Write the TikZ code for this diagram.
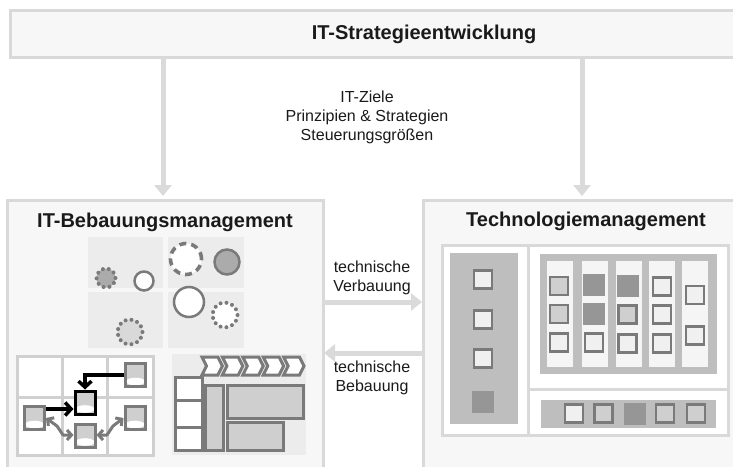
\documentclass[tikz,border=0pt]{standalone}
\usepackage{fontspec}
\setmainfont{Liberation Sans}
\usetikzlibrary{arrows.meta}
\definecolor{boxfill}{HTML}{F7F7F7}
\definecolor{boxline}{HTML}{D9D9D9}
\definecolor{arrowc}{HTML}{DADADA}
\definecolor{quadc}{HTML}{ECECEC}
\definecolor{dline}{HTML}{7A7A7A}
\definecolor{midf}{HTML}{CFCFCF}
\definecolor{panelc}{HTML}{BEBEBE}
\definecolor{darkf}{HTML}{969696}
\definecolor{lightsq}{HTML}{F0F0F0}
\definecolor{colc}{HTML}{F5F5F5}
\definecolor{gridc}{HTML}{D0D0D0}
\definecolor{txt}{HTML}{1A1A1A}
\begin{document}
\begin{tikzpicture}[x=1pt,y=-1pt,
  bigbox/.style={draw=boxline, line width=3pt, fill=boxfill, inner sep=0pt, outer sep=0pt, anchor=north west},
  bigarrow/.style={draw=arrowc, line width=5pt, -{Triangle[length=11pt,width=17pt]}},
  titlet/.style={font=\fontsize{20}{24}\selectfont\bfseries, text=txt, inner sep=0pt},
  labt/.style={font=\fontsize{16}{19}\selectfont, align=center, text=txt, inner sep=0pt},
  sq/.style={draw=dline, line width=2.5pt, fill=lightsq, minimum size=18pt, inner sep=0pt},
  sqmid/.style={sq, fill=midf},
  sqdark/.style={fill=darkf, minimum size=22pt, inner sep=0pt},
  db/.style={draw=dline, line width=3pt, fill=midf, minimum width=20pt, minimum height=23pt, inner sep=0pt,
    path picture={\fill[white] ([yshift=-6.5pt]path picture bounding box.center) ellipse (9.5pt and 3.8pt);}},
  blackarr/.style={draw=black, line width=3.5pt, -{Straight Barb[length=6pt,width=13pt]}},
  grayarr/.style={draw=dline, line width=3pt, line join=round, {Straight Barb[length=4.5pt,width=10pt]}-{Straight Barb[length=4.5pt,width=10pt]}},
  pbox/.style={draw=dline, line width=3pt},
  circ/.style={circle, inner sep=0pt, line width=2.5pt},
  dotc/.style={dash pattern=on 0pt off 6pt, line cap=round, line width=4pt},
]
\useasboundingbox (0,0) rectangle (733,466);
\clip (0,0) rectangle (733,466);
\fill[white] (0,0) rectangle (733,466);

% top banner
\node[bigbox, minimum width=740pt, minimum height=47pt] (strat) at (10,10) {};
\node[titlet, anchor=base] (strattxt) at (424,39) {IT-Strategieentwicklung};

% big boxes
\node[bigbox, minimum width=316pt, minimum height=290pt] (bebau) at (7,200) {};
\node[bigbox, minimum width=330pt, minimum height=290pt] (tech) at (423,200) {};
\node[titlet, anchor=base] (bebautxt) at (165,227) {IT-Bebauungsmanagement};
\node[titlet, anchor=base] (techtxt) at (586,226) {Technologiemanagement};

% vertical arrows
\coordinate (la) at (163,196);
\coordinate (ra) at (582,196);
\draw[bigarrow] (strat.south -| la) -- (la);
\draw[bigarrow] (strat.south -| ra) -- (ra);
\node[labt] (ziele) at (367,117) {IT-Ziele\\Prinzipien \& Strategien\\Steuerungsgrößen};

% horizontal arrows
\coordinate (va) at (422,302);
\coordinate (ba) at (324,353);
\draw[bigarrow] (bebau.east |- va) -- (va);
\draw[bigarrow] (tech.west |- ba) -- (ba);
\node[labt] (verb) at (372,278) {technische\\Verbauung};
\node[labt] (beb) at (372,378) {technische\\Bebauung};

% ---------- left box: quadrants with circles
\fill[quadc] (88,237) rectangle (163,288);
\fill[quadc] (168,237) rectangle (244,288);
\fill[quadc] (88,292) rectangle (163,348);
\fill[quadc] (168,292) rectangle (244,348);
\node[circ, minimum size=19pt, fill=darkf!80!white, draw=dline, dotc] (c1) at (106,278) {};
\node[circ, minimum size=19pt, fill=white, draw=dline] (c2) at (144,281) {};
\node[circ, minimum size=31pt, fill=white, draw=dline, line width=3.6pt, dash pattern=on 7pt off 5pt] (c3) at (186,259) {};
\node[circ, minimum size=25pt, fill=darkf!80!white, draw=dline] (c4) at (227,262) {};
\node[circ, minimum size=30pt, fill=white, draw=dline] (c5) at (189,302) {};
\node[circ, minimum size=25pt, fill=white, draw=dline, dotc] (c6) at (225,315) {};
\node[circ, minimum size=25pt, fill=midf!80!white, draw=dline, dotc] (c7) at (130,332) {};

% ---------- left box: grid with databases
\fill[white] (17,356) rectangle (153,455);
\draw[gridc, line width=3pt] (17,356) rectangle (153,455);
\draw[gridc, line width=3pt] (62,356) -- (62,455);
\draw[gridc, line width=3pt] (107,356) -- (107,455);
\draw[gridc, line width=3pt] (17,397) -- (153,397);
\node[db] (dbtr) at (135.5,375) {};
\node[db, draw=black] (dbc) at (85,402.5) {};
\node[db] (dbl) at (34.5,418) {};
\node[db] (dbr) at (135,418) {};
\node[db] (dbb) at (85,435.5) {};
\draw[blackarr] (dbtr.west) -| (dbc.north);
\draw[blackarr] ([yshift=-4pt]dbl.north east) -- ([yshift=-4pt]dbl.north east -| dbc.west);
\draw[grayarr] (dbl.east |- 0,418) -- (57,426) -- (63,435) -- (dbb.west |- 0,435);
\draw[grayarr] (dbr.west |- 0,418) -- (113,426) -- (107,435) -- (dbb.east |- 0,435);

% ---------- left box: process / table panel
\fill[quadc] (172,354) rectangle (306,455);
\foreach \i in {0,...,4}{
  \pgfmathsetmacro{\xa}{202+20.4*\i}
  \pgfmathsetmacro{\xb}{\xa+20.4}
  \draw[pbox, fill=white, line join=miter] (\xa,357) -- (\xb-4.5,357) -- (\xb,366) -- (\xb-4.5,375) -- (\xa,375) -- (\xa+4.5,366) -- cycle;
}
\draw[pbox, fill=white] (175,377) rectangle (202,400);
\draw[pbox, fill=white] (175,400) rectangle (202,427);
\draw[pbox, fill=white] (175,427) rectangle (202,450);
\draw[pbox, fill=midf] (205,385) rectangle (223,450);
\draw[pbox, fill=midf] (227,385) rectangle (303,418);
\draw[pbox, fill=midf] (227,422) rectangle (283,450);

% ---------- right box content
\draw[boxline, line width=3pt, fill=white] (442,245) rectangle (728,435);
\draw[boxline, line width=3pt] (528,245) -- (528,435);
\draw[boxline, line width=3pt] (528,389) -- (728,389);
\fill[panelc] (450,253) rectangle (518,424);
\node[sq] (l1) at (483,279.5) {};
\node[sq] (l2) at (483,319.5) {};
\node[sq] (l3) at (483,358.5) {};
\node[sqdark] (l4) at (483,401.5) {};

\fill[panelc] (540,254) rectangle (717,374);
\foreach \xa in {547,582,616,649,682}{
  \fill[colc] (\xa,261) rectangle (\xa+26,367);
}
\node[sqmid] (a1) at (559,286) {};
\node[sqmid] (a2) at (559,314) {};
\node[sq] (a3) at (559,342.5) {};
\node[sqdark] (b1) at (594,285) {};
\node[sqdark] (b2) at (594,313.5) {};
\node[sq] (b3) at (594,342.5) {};
\node[sqdark] (d1) at (627.5,285.5) {};
\node[sqmid] (d2) at (627.5,314.5) {};
\node[sq] (d3) at (627.5,343.5) {};
\node[sq] (e1) at (662,286.5) {};
\node[sq] (e2) at (662,314.5) {};
\node[sq] (e3) at (662,343.5) {};
\node[sq] (f1) at (695,295) {};
\node[sq] (f2) at (695,335.5) {};

\fill[panelc] (541,400) rectangle (716,428);
\node[sq] (s1) at (574,413.5) {};
\node[sqmid] (s2) at (603.5,413.5) {};
\node[sqdark] (s3) at (635,413.5) {};
\node[sqmid] (s4) at (665,413.5) {};
\node[sqmid] (s5) at (696,413.5) {};
\end{tikzpicture}
\end{document}
